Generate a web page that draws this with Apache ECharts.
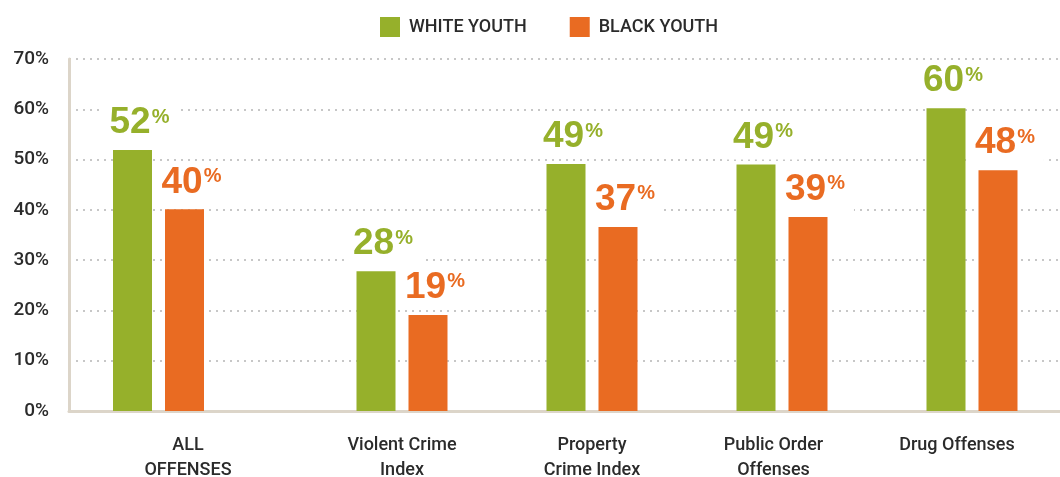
<!DOCTYPE html>
<html>
<head>
<meta charset="utf-8">
<script src="https://cdn.jsdelivr.net/npm/echarts@6/dist/echarts.min.js"></script>
<style>
html,body{margin:0;padding:0;background:#fff;}
#chart{width:1060px;height:477px;}
</style>
</head>
<body>
<div id="chart"></div>
<script>
// ---- data ----
const firstCategory = ['ALL\nOFFENSES'];
const otherCategories = ['Violent Crime\nIndex', 'Property\nCrime Index', 'Public Order\nOffenses', 'Drug Offenses'];
const seriesNames = ['WHITE YOUTH', 'BLACK YOUTH'];
const whiteFirst = [51.9];
const blackFirst = [40.1];
const whiteOther = [27.8, 49.1, 49, 60.2];
const blackOther = [19.1, 36.6, 38.6, 47.9];
const yTicks = [0, 10, 20, 30, 40, 50, 60, 70];

// ---- styles ----
const GREEN = '#96B02B';
const ORANGE = '#E96B22';
const AXIS = '#DCD5C9';
const TEXT = '#2b2b2b';
const FONT = 'Roboto, "Liberation Sans", sans-serif';
const NUMFONT = '"Liberation Sans Narrow", "Liberation Sans", sans-serif';
// right padding per lower category label (shifts the text left like the original)
const otherLabelShift = [0, 0, 17, 30];

function makeLabel(color) {
  return {
    show: true,
    position: 'top',
    distance: 5,
    offset: [7, 0],
    backgroundColor: '#fff',
    padding: [2, 9, 6, 9],
    formatter: p => '{n|' + Math.round(p.value) + '}{p|%}',
    rich: {
      n: { fontFamily: NUMFONT, fontWeight: 'bold', fontSize: 37, color: color, lineHeight: 32 },
      p: { fontFamily: NUMFONT, fontWeight: 'bold', fontSize: 20, color: color, verticalAlign: 'top', lineHeight: 15, padding: [0, 0, 0, 1] }
    }
  };
}

const yMin = yTicks[0], yMax = yTicks[yTicks.length - 1], yStep = yTicks[1] - yTicks[0];

function yAxis(idx, showLabels) {
  return {
    type: 'value', gridIndex: idx, min: yMin, max: yMax, interval: yStep,
    axisLine: { show: showLabels, lineStyle: { color: AXIS, width: 3 } },
    axisTick: { show: false },
    axisLabel: {
      show: showLabels, formatter: '{value}%', color: TEXT, fontFamily: FONT,
      fontSize: 19, fontWeight: 500, margin: 20
    },
    splitLine: { show: true, lineStyle: { color: '#b5b5b5', type: [2, 5], width: 1.5 } }
  };
}

function xAxis(idx, data, shifts) {
  return {
    type: 'category', gridIndex: idx,
    data: data.map((v, i) => (shifts && shifts[i]) ? { value: v, textStyle: { padding: [0, shifts[i], 0, 0] } } : v),
    axisLine: { show: true, lineStyle: { color: AXIS, width: 3 } },
    axisTick: { show: false },
    axisLabel: {
      color: TEXT, fontFamily: FONT, fontSize: 18, fontWeight: 500,
      lineHeight: 25, margin: 22, interval: 0
    }
  };
}

const chart = echarts.init(document.getElementById('chart'), null, { renderer: 'canvas' });
chart.setOption({
  animation: false,
  color: [GREEN, ORANGE],
  legend: {
    data: seriesNames,
    top: 12, left: 375,
    icon: 'rect', itemWidth: 20, itemHeight: 20, itemGap: 43,
    textStyle: { color: TEXT, fontFamily: FONT, fontSize: 18, fontWeight: 500, padding: [0, 0, 0, 4] }
  },
  grid: [
    { left: 69, top: 59, width: 238, bottom: 66, containLabel: false, outerBoundsMode: 'none' },
    { left: 307, top: 59, width: 760, bottom: 66, containLabel: false, outerBoundsMode: 'none' }
  ],
  xAxis: [xAxis(0, firstCategory), xAxis(1, otherCategories, otherLabelShift)],
  yAxis: [yAxis(0, true), yAxis(1, false)],
  series: [
    { name: seriesNames[0], type: 'bar', xAxisIndex: 0, yAxisIndex: 0, data: whiteFirst, barWidth: 39, barGap: '33.333%', itemStyle: { color: GREEN }, label: makeLabel(GREEN) },
    { name: seriesNames[1], type: 'bar', xAxisIndex: 0, yAxisIndex: 0, data: blackFirst, barWidth: 39, barGap: '33.333%', itemStyle: { color: ORANGE }, label: makeLabel(ORANGE) },
    // empty spacer column keeping the first group left of its band centre
    { type: 'bar', xAxisIndex: 0, yAxisIndex: 0, data: [null], barWidth: 46, barGap: '33.333%', silent: true },
    { name: seriesNames[0], type: 'bar', xAxisIndex: 1, yAxisIndex: 1, data: whiteOther, barWidth: 39, barGap: '33.333%', itemStyle: { color: GREEN }, label: makeLabel(GREEN) },
    { name: seriesNames[1], type: 'bar', xAxisIndex: 1, yAxisIndex: 1, data: blackOther, barWidth: 39, barGap: '33.333%', itemStyle: { color: ORANGE }, label: makeLabel(ORANGE) }
  ]
});
</script>
</body>
</html>
